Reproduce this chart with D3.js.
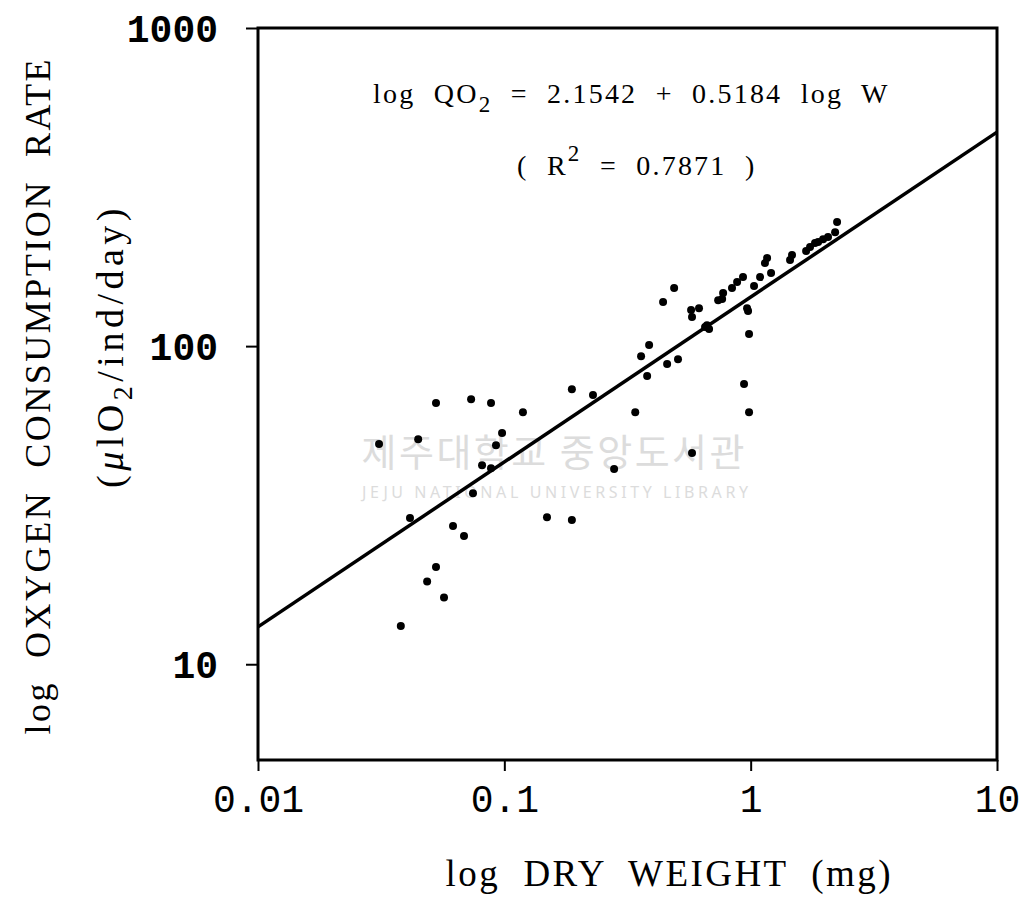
<!DOCTYPE html>
<html>
<head>
<meta charset="utf-8">
<script src="https://cdn.jsdelivr.net/npm/d3@7"></script>
<style>
  html, body { margin: 0; padding: 0; background: #fff; }
  svg { display: block; }
  text { white-space: pre; }
</style>
</head>
<body>
<div class="charts-div"></div>
<script>
// dry weight (mg) and oxygen consumption (ul O2/ind/day)
const dryWeight = [
    0.031, 0.038, 0.0414, 0.0447, 0.0486, 0.0528, 0.0528, 0.0569, 0.0619, 0.0686,
    0.0733, 0.0746, 0.0812, 0.0883, 0.0883, 0.0925, 0.0979, 0.119, 0.149, 0.188,
    0.188, 0.229, 0.279, 0.34, 0.359, 0.38, 0.387, 0.441, 0.458, 0.489,
    0.507, 0.573, 0.578, 0.617, 0.578, 0.653, 0.665, 0.678, 0.738, 0.766,
    0.773, 0.84, 0.881, 0.931, 0.94, 0.967, 0.976, 0.985, 0.985, 1.032,
    1.092, 1.166, 1.143, 1.21, 1.445, 1.472, 1.679, 1.742, 1.825, 1.879,
    1.968, 2.061, 2.202, 2.243
];
const oxygenRate = [
    49.2, 13.2, 28.8, 51.0, 18.2, 20.2, 66.2, 16.2, 27.2, 25.3,
    68.1, 34.5, 42.2, 66.2, 41.3, 48.8, 53.3, 62.0, 29.0, 28.4,
    73.2, 70.2, 41.1, 62.0, 93.0, 80.5, 100.8, 137.5, 87.8, 152.2,
    91.0, 129.8, 123.4, 131.6, 46.1, 114.8, 116.4, 113.1, 139.5, 140.7,
    146.8, 152.2, 159.0, 164.8, 76.0, 131.6, 128.9, 109.1, 62.0, 154.4,
    164.8, 189.1, 182.4, 169.7, 186.4, 193.3, 199.0, 204.8, 210.8, 212.4,
    216.9, 220.2, 228.2, 245.4
];

// regression: log QO2 = a + b log W
const intercept = 2.1542;
const slope = 0.5184;
const rSquared = 0.7871;

const xTicks = [0.01, 0.1, 1, 10];
const xTickLabels = ["0.01", "0.1", "1", "10"];
const yTicks = [10, 100, 1000];
const yTickLabels = ["10", "100", "1000"];

const chartGeneration = () => {
    const width = 1021,
        height = 898;
    const margin = { top: 28, right: 24, bottom: 138, left: 258 };

    const x = d3.scaleLog().domain([0.01, 10]).range([margin.left, width - margin.right]);
    const y = d3.scaleLog().domain([5, 1000]).range([height - margin.bottom, margin.top]);

    const svg = d3
        .select(".charts-div")
        .append("svg")
        .attr("width", width)
        .attr("height", height);

    // library watermark, faint, behind everything
    const wm = svg.append("g").attr("fill", "#dcdcdc");
    wm.append("text")
        .attr("x", 553)
        .attr("y", 466)
        .attr("text-anchor", "middle")
        .attr("font-family", "'Noto Sans CJK KR', sans-serif")
        .attr("font-size", 38)
        .attr("textLength", 383)
        .text("제주대학교 중앙도서관");
    wm.append("text")
        .attr("x", 555)
        .attr("y", 498)
        .attr("text-anchor", "middle")
        .attr("font-family", "'Noto Sans', sans-serif")
        .attr("font-size", 16)
        .attr("textLength", 386)
        .text("JEJU NATIONAL UNIVERSITY LIBRARY");

    // frame
    svg.append("rect")
        .attr("x", x(0.01))
        .attr("y", y(1000))
        .attr("width", x(10) - x(0.01))
        .attr("height", y(5) - y(1000))
        .attr("fill", "none")
        .attr("stroke", "#000")
        .attr("stroke-width", 3);

    const xAxis = svg
        .append("g")
        .attr("transform", `translate(0,${y(5)})`)
        .call(d3.axisBottom(x).tickValues(xTicks).tickSize(11).tickSizeOuter(0).tickFormat((d, i) => xTickLabels[i]));
    xAxis.select(".domain").remove();
    xAxis.selectAll("line").attr("stroke-width", 2);
    xAxis.selectAll("text")
        .attr("dy", null)
        .attr("y", 52)
        .attr("font-family", "'Liberation Mono', monospace")
        .attr("font-size", 38)
        .attr("fill", "#000");

    const yAxis = svg
        .append("g")
        .attr("transform", `translate(${x(0.01)},0)`)
        .call(d3.axisLeft(y).tickValues(yTicks).tickSize(12).tickSizeOuter(0).tickFormat((d, i) => yTickLabels[i]));
    yAxis.select(".domain").remove();
    yAxis.selectAll("line").attr("stroke-width", 2);
    yAxis.selectAll("text")
        .attr("x", -40)
        .attr("dy", "0.35em")
        .attr("font-family", "'Liberation Mono', monospace")
        .attr("font-weight", "bold")
        .attr("font-size", 38)
        .attr("fill", "#000");

    // regression line
    const fit = (w) => Math.pow(10, intercept + slope * Math.log10(w));
    const lineData = x.domain().map((w) => [w, fit(w)]);
    svg.append("path")
        .datum(lineData)
        .attr("fill", "none")
        .attr("stroke", "#000")
        .attr("stroke-width", 3.5)
        .attr("d", d3.line().x((d) => x(d[0])).y((d) => y(d[1])));

    // points
    svg.append("g")
        .selectAll("circle")
        .data(dryWeight.map((w, i) => [w, oxygenRate[i]]))
        .join("circle")
        .attr("cx", (d) => x(d[0]))
        .attr("cy", (d) => y(d[1]))
        .attr("r", 4)
        .attr("fill", "#000");

    // equation text
    const eq = svg.append("text")
        .attr("x", 373)
        .attr("y", 103)
        .attr("font-family", "'Liberation Serif', serif")
        .attr("font-size", 28)
        .attr("letter-spacing", 2.2)
        .attr("fill", "#000");
    eq.append("tspan").text("log  QO");
    eq.append("tspan").attr("dy", 9).attr("font-size", 23).text("2");
    eq.append("tspan").attr("dy", -9).text(`  =  ${intercept.toFixed(4)}  +  ${slope.toFixed(4)}  log  W`);

    const r2 = svg.append("text")
        .attr("x", 517)
        .attr("y", 175)
        .attr("font-family", "'Liberation Serif', serif")
        .attr("font-size", 28)
        .attr("letter-spacing", 2.2)
        .attr("fill", "#000");
    r2.append("tspan").text("(  R");
    r2.append("tspan").attr("dy", -14).attr("font-size", 23).text("2");
    r2.append("tspan").attr("dy", 14).text(`  =  ${rSquared.toFixed(4)}  )`);

    // axis titles
    svg.append("text")
        .attr("x", 668)
        .attr("y", 886)
        .attr("text-anchor", "middle")
        .attr("font-family", "'Liberation Serif', serif")
        .attr("font-size", 37)
        .attr("textLength", 445)
        .attr("fill", "#000")
        .text("log  DRY  WEIGHT  (mg)");

    svg.append("text")
        .attr("transform", "translate(50,397) rotate(-90)")
        .attr("text-anchor", "middle")
        .attr("font-family", "'Liberation Serif', serif")
        .attr("font-size", 36)
        .attr("textLength", 675)
        .attr("fill", "#000")
        .text("log  OXYGEN  CONSUMPTION  RATE");

    const yt2 = svg.append("text")
        .attr("transform", "translate(123,346) rotate(-90)")
        .attr("text-anchor", "middle")
        .attr("font-family", "'Liberation Serif', serif")
        .attr("font-size", 38)
        .attr("letter-spacing", 4.5)
        .attr("fill", "#000");
    yt2.append("tspan").text("(");
    yt2.append("tspan").attr("font-style", "italic").text("\u03bc");
    yt2.append("tspan").text("lO");
    yt2.append("tspan").attr("dy", 9).attr("font-size", 28).text("2");
    yt2.append("tspan").attr("dy", -9).text("/ind/day)");
};

chartGeneration();
</script>
</body>
</html>
